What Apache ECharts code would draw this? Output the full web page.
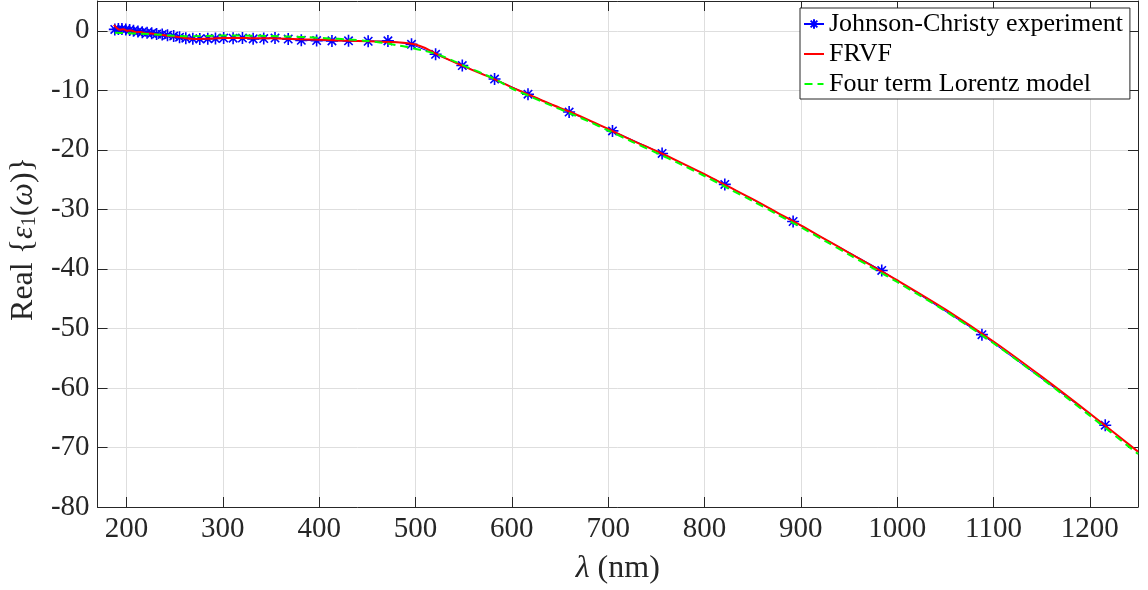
<!DOCTYPE html>
<html>
<head>
<meta charset="utf-8">
<script src="https://cdn.jsdelivr.net/npm/echarts@6/dist/echarts.min.js"></script>
<style>
html,body{margin:0;padding:0;background:#fff;}
#chart{width:1148px;height:590px;}
</style>
</head>
<body>
<div id="chart"></div>
<script>
// Johnson-Christy experimental points (wavelength nm, Real eps1)
var jcWavelength = [187.9,191.6,195.3,199.3,203.3,207.3,211.9,216.4,221.4,226.2,231.3,237.1,242.6,249.0,255.1,261.6,268.9,276.1,284.4,292.4,300.9,310.7,320.4,331.5,342.5,354.2,367.9,381.5,397.4,413.3,430.5,450.9,471.4,495.9,520.9,548.6,582.1,616.8,659.5,704.5,756.0,821.1,892.0,984.0,1088,1216];
var jcEps1 = [0.23,0.30,0.29,0.20,0.14,-0.01,-0.13,-0.23,-0.35,-0.42,-0.55,-0.62,-0.75,-0.89,-1.08,-1.24,-1.35,-1.37,-1.33,-1.31,-1.23,-1.24,-1.23,-1.36,-1.31,-1.23,-1.40,-1.61,-1.65,-1.70,-1.69,-1.76,-1.70,-2.28,-3.95,-5.84,-8.11,-10.66,-13.65,-16.82,-20.61,-25.81,-32.04,-40.27,-51.05,-66.26];

// FRVF fit curve
var frvfWavelength = [187,190,193,197,201,205,210,215,220,226,232,238,244,250,256,262,268,275,282,290,300,310,320,330,340,350,365,380,400,420,440,460,475,490,500,510,520,535,550,565,580,600,620,640,660,680,700,725,750,775,800,825,850,875,900,925,950,975,1000,1050,1100,1150,1200,1250];
var frvfEps1 = [1.0,0.45,0.15,0.25,0.0,0.05,-0.25,-0.2,-0.45,-0.45,-0.65,-0.7,-0.9,-0.95,-1.1,-1.25,-1.35,-1.38,-1.35,-1.3,-1.22,-1.2,-1.22,-1.25,-1.25,-1.27,-1.33,-1.42,-1.52,-1.62,-1.72,-1.82,-1.9,-2.05,-2.3,-2.9,-3.75,-4.9,-5.95,-7.0,-8.0,-9.5,-10.9,-12.3,-13.6,-15.0,-16.5,-18.4,-20.2,-22.1,-24.1,-26.2,-28.3,-30.5,-32.7,-35.0,-37.3,-39.6,-41.9,-46.8,-52.2,-58.1,-64.3,-70.7];

// Four term Lorentz model curve
var lorentzWavelength = [188,200,215,230,245,260,275,290,310,330,350,370,390,410,430,450,465,480,495,510,525,540,555,570,585,600,620,640,660,680,700,725,750,775,800,825,850,875,900,925,950,975,1000,1050,1100,1150,1200,1250];
var lorentzEps1 = [-0.35,-0.4,-0.5,-0.62,-0.78,-0.92,-0.9,-0.82,-0.8,-0.82,-0.88,-0.98,-1.1,-1.28,-1.45,-1.7,-2.0,-2.4,-2.85,-3.4,-4.1,-5.1,-6.2,-7.2,-8.35,-9.7,-11.1,-12.5,-13.85,-15.25,-16.75,-18.65,-20.5,-22.4,-24.4,-26.5,-28.6,-30.8,-33.0,-35.3,-37.6,-39.9,-42.2,-47.1,-52.5,-58.4,-64.65,-71.1];

var seriesNames = ['Johnson-Christy experiment', 'FRVF', 'Four term Lorentz model'];

function pairs(xs, ys) { return xs.map(function (x, i) { return [x, ys[i]]; }); }

var FONT = 'Liberation Serif';
var AX = '#262626';
var asterisk = 'path://M0,6L12,6M6,0L6,12M1.8,1.8L10.2,10.2M1.8,10.2L10.2,1.8';
var solidIcon = 'path://M0,0L0.01,0ZM0,12L0.01,12ZM0,5H20V7H0Z';
var dashIcon = 'path://M0,0L0.01,0ZM0,12L0.01,12ZM0,5H8V7H0ZM13,5H19V7H13Z';

var chart = echarts.init(document.getElementById('chart'), null, {renderer: 'canvas'});
var xCommon = {
  type: 'value', min: 170, max: 1250, minInterval: 100, maxInterval: 100, splitNumber: 10,
  axisLine: {show: true, onZero: false, lineStyle: {color: AX, width: 1}},
  axisTick: {show: true, inside: true, length: 10, lineStyle: {color: AX}}
};
var yCommon = {
  type: 'value', min: -80, max: 5, interval: 10,
  axisLine: {show: true, onZero: false, lineStyle: {color: AX, width: 1}},
  axisTick: {show: true, inside: true, length: 10, lineStyle: {color: AX}}
};
var option = {
  animation: false,
  backgroundColor: '#fff',
  grid: {left: 95, right: 10, top: 1, bottom: 82, containLabel: false},
  xAxis: [
    Object.assign({}, xCommon, {
      position: 'bottom',
      name: '{it|λ} (nm)', nameLocation: 'middle', nameGap: 46,
      nameTextStyle: {fontFamily: FONT, fontSize: 32, color: AX,
        rich: {it: {fontFamily: FONT, fontSize: 32, fontStyle: 'italic', color: AX}}},
      axisLabel: {show: true, fontFamily: FONT, fontSize: 29, color: AX, margin: 8,
        showMinLabel: false, showMaxLabel: false,
        formatter: function (v) { return String(v); }},
      splitLine: {show: true, lineStyle: {color: '#dedede', width: 1}}
    }),
    Object.assign({}, xCommon, {
      position: 'top', axisLabel: {show: false}, splitLine: {show: false}
    })
  ],
  yAxis: [
    Object.assign({}, yCommon, {
      position: 'left',
      name: 'Real {{it|ε}{sub|1}({it|ω})}', nameLocation: 'middle', nameGap: 52,
      nameTextStyle: {fontFamily: FONT, fontSize: 32, color: AX, padding: [0, 0, 0, 30],
        rich: {
          it: {fontFamily: FONT, fontSize: 32, fontStyle: 'italic', color: AX},
          sub: {fontFamily: FONT, fontSize: 20, color: AX, verticalAlign: 'bottom'}
        }},
      axisLabel: {show: true, fontFamily: FONT, fontSize: 29, color: AX, margin: 8,
        showMaxLabel: false},
      splitLine: {show: true, lineStyle: {color: '#dedede', width: 1}}
    }),
    Object.assign({}, yCommon, {
      position: 'right', axisLabel: {show: false}, splitLine: {show: false}
    })
  ],
  legend: {
    data: [
      {name: seriesNames[0]},
      {name: seriesNames[1], icon: solidIcon},
      {name: seriesNames[2], icon: dashIcon}
    ],
    orient: 'vertical', left: 800, top: 8,
    backgroundColor: '#fff', borderColor: AX, borderWidth: 1,
    padding: [1, 7, 0, 3], itemGap: 0, itemWidth: 20, itemHeight: 12,
    textStyle: {fontFamily: FONT, fontSize: 26, color: '#000', lineHeight: 30}
  },
  series: [
    {
      name: seriesNames[0], type: 'line', xAxisIndex: 0, yAxisIndex: 0,
      data: pairs(jcWavelength, jcEps1),
      symbol: asterisk, symbolSize: 12, symbolKeepAspect: true,
      itemStyle: {color: '#0000ff', borderColor: '#0000ff', borderWidth: 1.6},
      lineStyle: {color: '#0000ff', width: 1},
      emphasis: {disabled: true}, z: 2
    },
    {
      name: seriesNames[1], type: 'line', xAxisIndex: 0, yAxisIndex: 0,
      data: pairs(frvfWavelength, frvfEps1),
      showSymbol: false, symbol: 'none', smooth: 0.3,
      itemStyle: {color: '#ff0000'},
      lineStyle: {color: '#ff0000', width: 2},
      emphasis: {disabled: true}, z: 3
    },
    {
      name: seriesNames[2], type: 'line', xAxisIndex: 0, yAxisIndex: 0,
      data: pairs(lorentzWavelength, lorentzEps1),
      showSymbol: false, symbol: 'none', smooth: 0.3,
      itemStyle: {color: '#00ff00'},
      lineStyle: {color: '#00ff00', width: 2, type: [8, 5]},
      emphasis: {disabled: true}, z: 4
    }
  ]
};
chart.setOption(option);
</script>
</body>
</html>
